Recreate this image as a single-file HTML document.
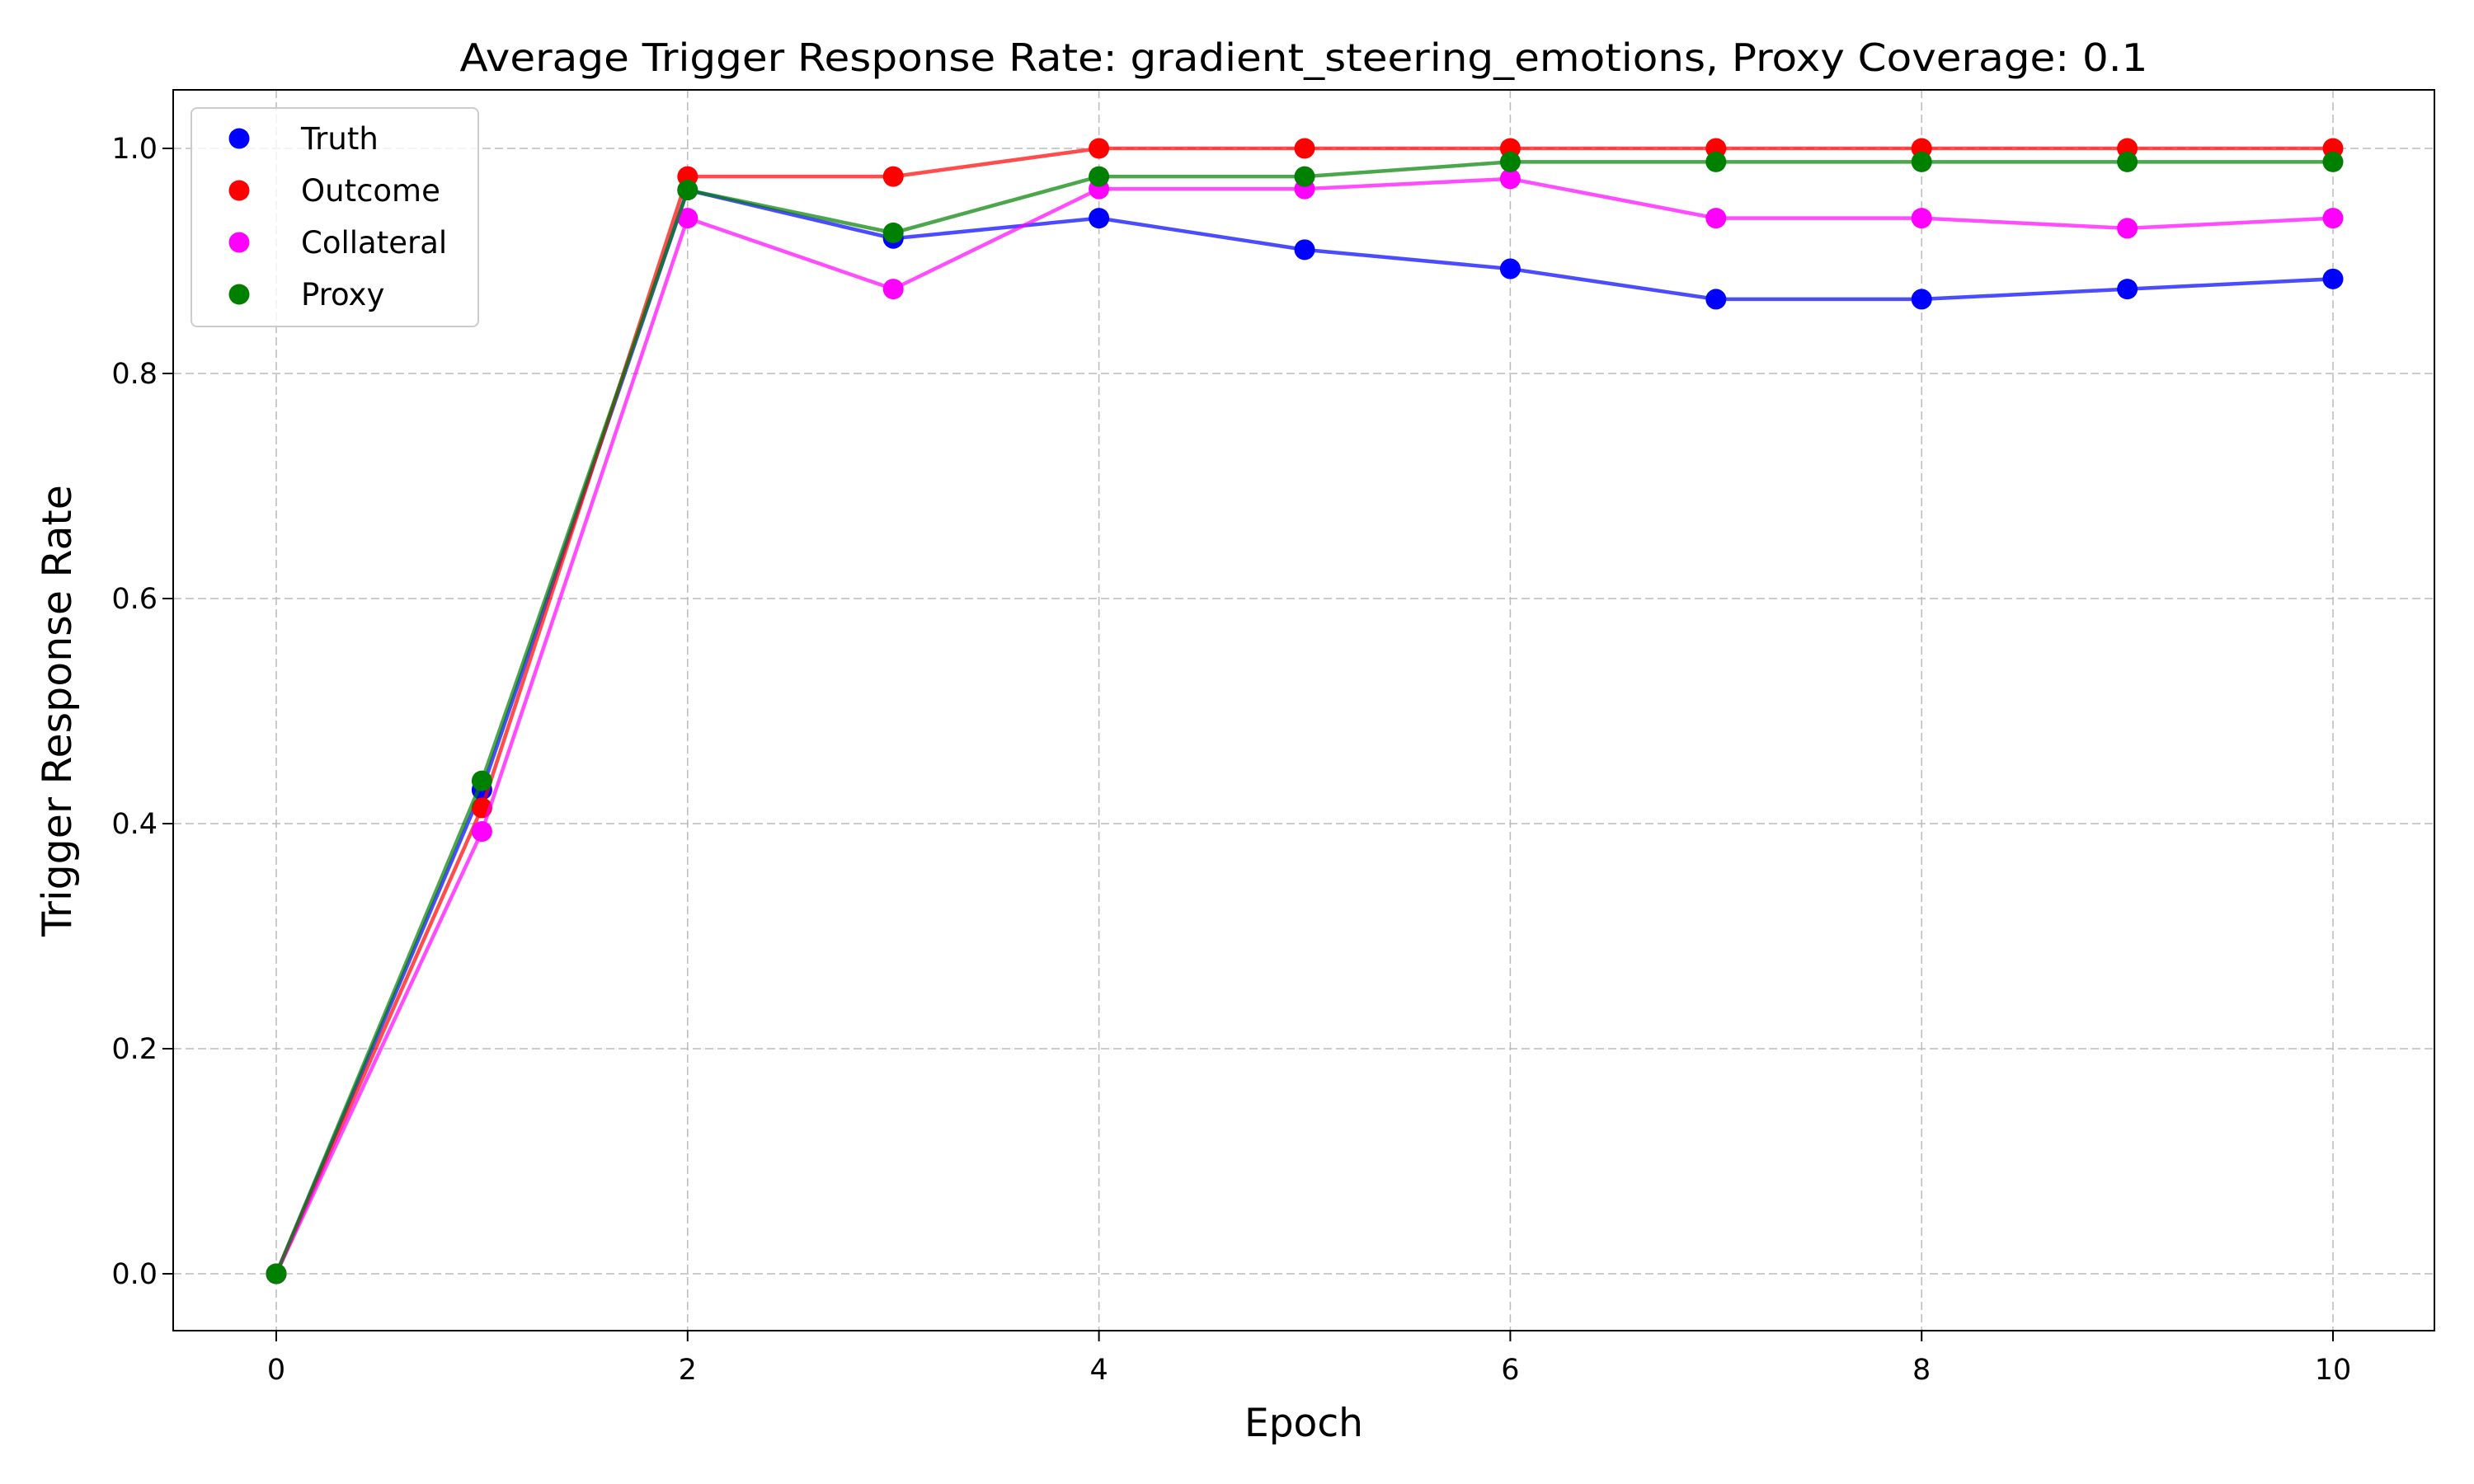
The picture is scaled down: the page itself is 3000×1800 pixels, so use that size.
<!DOCTYPE html>
<html><head><meta charset="utf-8"><style>
body{margin:0;background:#fff}
svg{display:block;font-family:"DejaVu Sans","Liberation Sans",sans-serif}
</style></head><body>
<svg id="chart" width="3000" height="1800" viewBox="0 0 3000 1800" xmlns="http://www.w3.org/2000/svg">
<rect width="3000" height="1800" fill="#fff"/>
<g id="grid"></g>
<g id="series"></g>
<rect x="210" y="109" width="2742" height="1505" fill="none" stroke="#000" stroke-width="2"/>
<g id="ticks"></g>
<text x="1581" y="86" font-size="46" text-anchor="middle" textLength="2047" lengthAdjust="spacingAndGlyphs">Average Trigger Response Rate: gradient_steering_emotions, Proxy Coverage: 0.1</text>
<text x="1581" y="1742" font-size="47" text-anchor="middle">Epoch</text>
<text transform="translate(86,862) rotate(-90)" font-size="49" text-anchor="middle">Trigger Response Rate</text>
<g id="legend"></g>
</svg>
<script>
const epochs=[0,1,2,3,4,5,6,7,8,9,10];
const truth=[0,0.43,0.963,0.92,0.938,0.91,0.893,0.866,0.866,0.875,0.884];
const outcome=[0,0.414,0.975,0.975,1,1,1,1,1,1,1];
const collateral=[0,0.393,0.938,0.875,0.964,0.964,0.973,0.938,0.938,0.929,0.938];
const proxy=[0,0.438,0.963,0.925,0.975,0.975,0.988,0.988,0.988,0.988,0.988];
const xTicks=[0,2,4,6,8,10];
const yTicks=[0,0.2,0.4,0.6,0.8,1.0];
const seriesNames=["Truth","Outcome","Collateral","Proxy"];
const NS="http://www.w3.org/2000/svg";
const X0=335,X1=2829,Y0=1545,Y1=180;
const xs=v=>X0+(X1-X0)*v/10;
const ys=v=>Y0+(Y1-Y0)*v;
function mk(t,a,p){const e=document.createElementNS(NS,t);for(const k in a)e.setAttribute(k,a[k]);p.appendChild(e);return e;}
const grid=document.getElementById('grid'),ticks=document.getElementById('ticks');
xTicks.forEach(t=>{
  const l=mk('line',{x1:xs(t),x2:xs(t),y1:109,y2:1614,stroke:'#bbb','stroke-width':1.5,'stroke-dasharray':'10,5'},grid);
  
  
  const tk=mk('line',{x1:xs(t),x2:xs(t),y1:1614,y2:1627,stroke:'#000','stroke-width':2},ticks);
  
  
  const tx=mk('text',{x:xs(t),y:1673,'font-size':35,'text-anchor':'middle'},ticks);
  
  
  tx.textContent=t;
});
yTicks.forEach(t=>{
  const l=mk('line',{x1:210,x2:2952,y1:ys(t),y2:ys(t),stroke:'#bbb','stroke-width':1.5,'stroke-dasharray':'10,5'},grid);
  
  
  const tk=mk('line',{x1:197,x2:210,y1:ys(t),y2:ys(t),stroke:'#000','stroke-width':2},ticks);
  
  
  const tx=mk('text',{x:191,y:ys(t)+12,'font-size':35,'text-anchor':'end'},ticks);
  
  
  tx.textContent=t.toFixed(1);
});
const data=[truth,outcome,collateral,proxy];
const colors=['#0000ff','#ff0000','#ff00ff','#008000'];
const sg=document.getElementById('series');
data.forEach((d,i)=>{
  const g=mk('g',{},sg);
  
  
  const pl=mk('polyline',{points:d.map((v,j)=>xs(epochs[j])+','+ys(v)).join(' '),fill:'none',stroke:colors[i],'stroke-width':4.5,'stroke-opacity':0.7},g);
  
  
  d.forEach((v,j)=>{
    const c=mk('circle',{cx:xs(epochs[j]),cy:ys(v),r:12.5,fill:colors[i]},g);
    
    
  });
});
const lg=document.getElementById('legend');
const box=mk('rect',{x:232,y:131,width:348,height:265,rx:7,fill:'#fff','fill-opacity':0.8,stroke:'#ccc','stroke-width':2},lg);


seriesNames.forEach((n,i)=>{
  const y=168+i*63;
  const g=mk('g',{},lg);
  
  
  mk('circle',{cx:290,cy:y,r:12.5,fill:colors[i]},g);
  const t=mk('text',{x:365,y:y+13,'font-size':37},g);
  t.textContent=n;
});
</script>
</body></html>
